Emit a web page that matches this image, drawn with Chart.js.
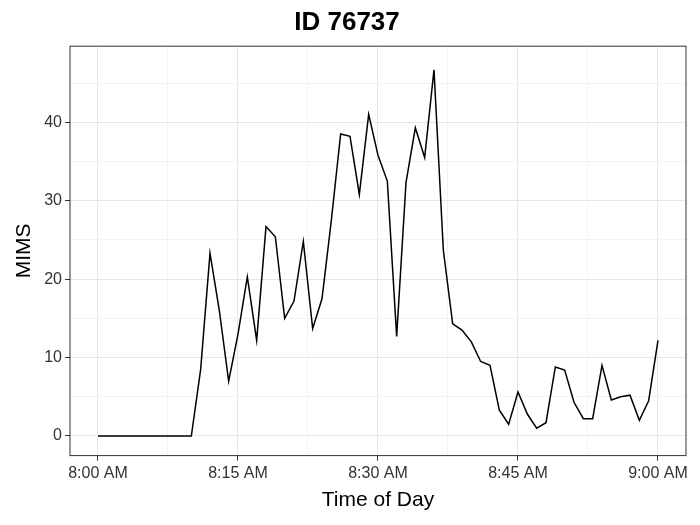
<!DOCTYPE html>
<html>
<head>
<script src="https://cdn.jsdelivr.net/npm/chart.js@4"></script>
<style>
  body { margin: 0; background: #fff; }
  #wrap { width: 700px; height: 525px; }
</style>
</head>
<body>
<div id="wrap"><canvas id="chart"></canvas></div>
<script>
// minutes after 8:00 AM
const minutes = [];
for (let m = 0; m <= 60; m++) minutes.push(m);
const mims = [0, 0, 0, 0, 0, 0, 0, 0, 0, 0, 0,
  8.5, 23.3, 16, 7, 13, 20.3, 12.2, 26.7, 25.4, 15,
  17.2, 24.8, 13.7, 17.5, 27.5, 38.5, 38.2, 30.8, 41, 35.8,
  32.5, 12.7, 32.3, 39.3, 35.5, 46.7, 23.7, 14.3, 13.5, 12,
  9.5, 9, 3.3, 1.5, 5.6, 2.8, 1, 1.7, 8.8, 8.4,
  4.3, 2.2, 2.2, 9, 4.6, 5, 5.2, 2, 4.5, 12.2];
const tickLabels = { 0: "8:00 AM", 15: "8:15 AM", 30: "8:30 AM", 45: "8:45 AM", 60: "9:00 AM" };

const panelBorder = {
  id: "panelBorder",
  afterDraw(chart) {
    const { ctx, chartArea: a } = chart;
    ctx.save();
    ctx.strokeStyle = "#333";
    ctx.lineWidth = 1;
    ctx.strokeRect(a.left, a.top, a.right - a.left, a.bottom - a.top);
    ctx.restore();
  }
};

new Chart(document.getElementById("chart"), {
  type: "line",
  data: {
    datasets: [{
      data: minutes.map((m, i) => ({ x: m, y: mims[i] })),
      borderColor: "#000",
      borderWidth: 1.5,
      pointRadius: 0,
      tension: 0
    }]
  },
  options: {
    responsive: true,
    maintainAspectRatio: false,
    animation: false,
    layout: { padding: { left: 8, right: 14, top: 5, bottom: 8 } },
    plugins: {
      legend: { display: false },
      tooltip: { enabled: false },
      title: {
        display: true,
        text: "ID 76737",
        color: "#000",
        font: { family: "Liberation Sans", size: 26, weight: "bold" },
        padding: { top: 2, bottom: 8 }
      }
    },
    scales: {
      x: {
        type: "linear",
        min: -3, max: 63,
        afterBuildTicks(axis) {
          const t = [];
          for (let v = 0; v <= 60; v += 7.5) t.push({ value: v });
          axis.ticks = t;
        },
        ticks: {
          autoSkip: false, maxRotation: 0,
          color: "#333",
          font: { family: "Liberation Sans", size: 16 },
          callback: v => tickLabels[v] || ""
        },
        grid: {
          color: ctx => (ctx.tick && ctx.tick.value % 15 === 0) ? "#e6e6e6" : "#f2f2f2",
          tickColor: ctx => (ctx.tick && ctx.tick.value % 15 === 0) ? "#333" : "rgba(0,0,0,0)",
          tickLength: 5
        },
        border: { display: false },
        title: {
          display: true, text: "Time of Day", color: "#000",
          font: { family: "Liberation Sans", size: 21 },
          padding: { top: 2 }
        }
      },
      y: {
        min: -2.5, max: 49.7,
        afterBuildTicks(axis) {
          const t = [];
          for (let v = 0; v <= 45; v += 5) t.push({ value: v });
          axis.ticks = t;
        },
        ticks: {
          autoSkip: false,
          color: "#333",
          font: { family: "Liberation Sans", size: 16 },
          callback: v => v % 10 === 0 ? v : ""
        },
        grid: {
          color: ctx => (ctx.tick && ctx.tick.value % 10 === 0) ? "#e6e6e6" : "#f2f2f2",
          tickColor: ctx => (ctx.tick && ctx.tick.value % 10 === 0) ? "#333" : "rgba(0,0,0,0)",
          tickLength: 5
        },
        border: { display: false },
        title: {
          display: true, text: "MIMS", color: "#000",
          font: { family: "Liberation Sans", size: 21 }
        }
      }
    }
  },
  plugins: [panelBorder]
});
</script>
</body>
</html>
